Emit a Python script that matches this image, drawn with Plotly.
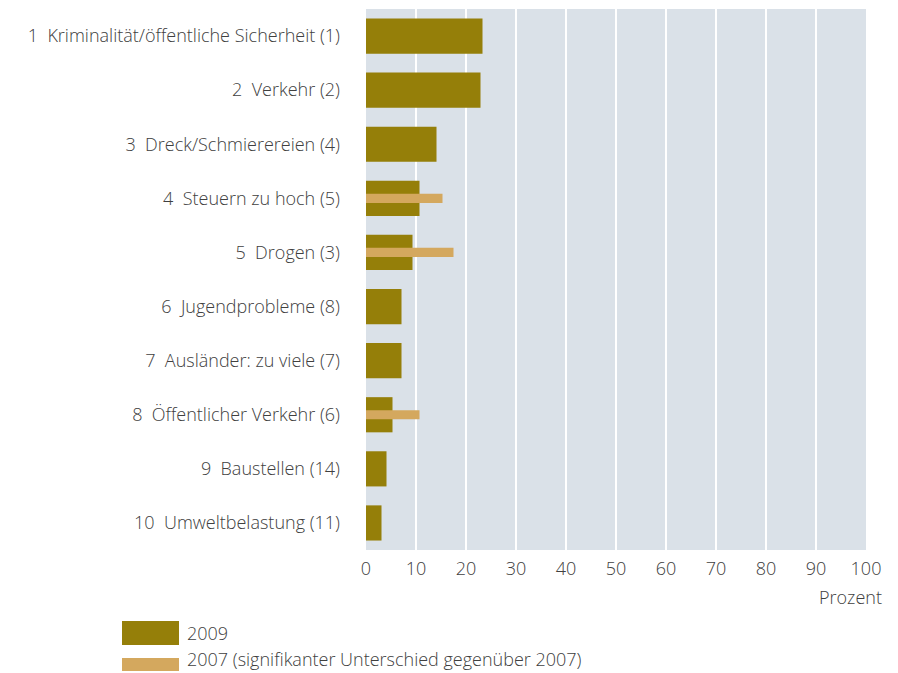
import plotly.graph_objects as go

categories = [
    "1  Kriminalität/öffentliche Sicherheit (1)",
    "2  Verkehr (2)",
    "3  Dreck/Schmierereien (4)",
    "4  Steuern zu hoch (5)",
    "5  Drogen (3)",
    "6  Jugendprobleme (8)",
    "7  Ausländer: zu viele (7)",
    "8  Öffentlicher Verkehr (6)",
    "9  Baustellen (14)",
    "10  Umweltbelastung (11)",
]
values_2009 = [23.3, 22.9, 14.1, 10.7, 9.3, 7.1, 7.1, 5.3, 4.1, 3.1]
values_2007 = [None, None, None, 15.3, 17.5, None, None, 10.7, None, None]
x_ticks = [0, 10, 20, 30, 40, 50, 60, 70, 80, 90, 100]
legend_labels = ["2009", "2007 (signifikanter Unterschied gegenüber 2007)"]

C2009 = "#957F09"
C2007 = "#D4A85E"
BG = "#DAE1E8"
TXT = "#404040"
FONT = "Open Sans"
FS = 18
OFF = 8  # page body margin

W, H = 890, 665
L, R, T, B = 366 - OFF, 866 - OFF, 9 - OFF, 550 - OFF

fig = go.Figure()
fig.add_trace(go.Bar(y=categories, x=values_2009, orientation="h", width=0.65,
                     marker=dict(color=C2009, line=dict(width=0)), name=legend_labels[0]))
fig.add_trace(go.Bar(y=categories, x=values_2007, orientation="h", width=0.17,
                     marker=dict(color=C2007, line=dict(width=0)), name=legend_labels[1]))

def px(x):
    return (x - OFF - L) / (R - L)

def py(y):
    return (B - (y - OFF)) / (B - T)

tf = dict(size=FS, color=TXT, family=FONT, weight=300)

# manual legend
shapes = [
    dict(type="rect", xref="paper", yref="paper", x0=px(122), x1=px(179), y0=py(645), y1=py(621),
         fillcolor=C2009, line=dict(width=0)),
    dict(type="rect", xref="paper", yref="paper", x0=px(122), x1=px(179), y0=py(671), y1=py(658),
         fillcolor=C2007, line=dict(width=0)),
]
annotations = [
    dict(xref="paper", yref="paper", x=px(185), y=py(633), text=legend_labels[0], showarrow=False,
         xanchor="left", yanchor="middle", font=tf),
    dict(xref="paper", yref="paper", x=px(185), y=py(659), text=legend_labels[1], showarrow=False,
         xanchor="left", yanchor="middle", font=tf),
    dict(xref="paper", yref="paper", x=px(884), y=py(597), text="Prozent", showarrow=False,
         xanchor="right", yanchor="middle", font=tf),
]

fig.update_layout(
    width=W, height=H,
    margin=dict(l=L, r=W - R, t=T, b=H - B, pad=0),
    paper_bgcolor="white", plot_bgcolor=BG,
    barmode="overlay", showlegend=False,
    font=dict(family=FONT, size=FS, color=TXT),
    shapes=shapes, annotations=annotations,
    xaxis=dict(range=[0, 100], tickvals=x_ticks, showgrid=True, gridcolor="white", gridwidth=1.5,
               zeroline=False, showline=False, ticks="", tickfont=tf, ticklabelstandoff=6,
               fixedrange=True),
    yaxis=dict(autorange="reversed", showgrid=False, zeroline=False, showline=False, ticks="",
               ticklabelstandoff=25, tickfont=tf, fixedrange=True),
)

fig.write_html("out.html")
